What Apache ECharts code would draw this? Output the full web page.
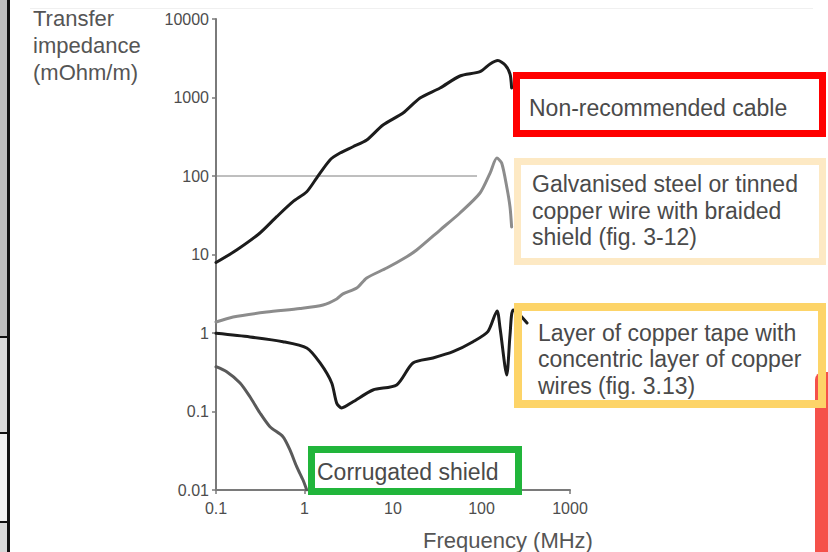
<!DOCTYPE html>
<html>
<head>
<meta charset="utf-8">
<script src="https://cdn.jsdelivr.net/npm/echarts@6/dist/echarts.min.js"></script>
<style>
  html, body { margin: 0; padding: 0; background: #ffffff; }
  #chart { width: 828px; height: 552px; }
</style>
</head>
<body>
<div id="chart"></div>
<script>
// ---- Data (frequency in MHz, transfer impedance in mOhm/m) ----
const xTickLabels = ['0.1', '1', '10', '100', '1000'];
const yTickLabels = ['0.01', '0.1', '1', '10', '100', '1000', '10000'];

const freqNonRec = [0.1, 0.171, 0.314, 0.485, 0.741, 1.06, 1.37, 1.94, 2.52, 3.53, 5.05, 7.71, 13.0, 20.2, 34.0, 57.1, 96.2, 125, 153, 185, 210, 219];
const zNonRec    = [7.9, 11.4, 18.8, 30.3, 47.1, 63, 94, 160, 196, 236, 288, 447, 635, 986, 1322, 1879, 2132, 2673, 2960, 2594, 1991, 1322];

const freqBraid = [0.1, 0.156, 0.374, 0.889, 1.62, 2.31, 2.72, 3.89, 5.05, 8.49, 14.3, 18.5, 34.0, 57.1, 96.2, 125, 149, 169, 193, 210, 219];
const zBraid    = [1.38, 1.60, 1.85, 2.05, 2.27, 2.71, 3.15, 3.74, 5.02, 6.73, 9.38, 11.4, 20.5, 33.8, 60.7, 109, 169, 146, 72.4, 40.3, 22.4];

const freqTape = [0.1, 0.242, 0.571, 1.06, 1.50, 2.03, 2.31, 2.63, 3.53, 5.94, 11.0, 16.8, 28.3, 47.6, 80.2, 118, 150, 162, 193, 210, 227, 272, 327];
const zTape    = [0.99, 0.89, 0.775, 0.644, 0.415, 0.231, 0.128, 0.111, 0.133, 0.188, 0.218, 0.415, 0.481, 0.578, 0.775, 1.04, 1.91, 1.16, 0.292, 0.944, 1.96, 1.69, 1.34];

const freqCorr = [0.1, 0.132, 0.187, 0.242, 0.314, 0.407, 0.571, 0.685, 0.816, 0.962, 1.06];
const zCorr    = [0.372, 0.321, 0.231, 0.154, 0.0957, 0.064, 0.0478, 0.0324, 0.0198, 0.0134, 0.01];

const refFreq = [0.1, 89];
const refZ    = [100, 100];

const labelNonRec = 'Non-recommended cable';
const labelBraid  = 'Galvanised steel or tinned\ncopper wire with braided\nshield (fig. 3-12)';
const labelTape   = 'Layer of copper tape with\nconcentric layer of copper\nwires (fig. 3.13)';
const labelCorr   = 'Corrugated shield';
const yTitle = 'Transfer\nimpedance\n(mOhm/m)';
const xTitle = 'Frequency (MHz)';

// ---- Build ----
function zip(a, b) { return a.map((v, i) => [v, b[i]]); }

const FONT = '"Liberation Sans", Arial, Helvetica, sans-serif';
const TXT = '#4a4a4a';

const chart = echarts.init(document.getElementById('chart'), null, { renderer: 'svg' });

function lineSeries(name, data, color, width) {
  return {
    name: name, type: 'line', data: data, showSymbol: false, symbol: 'none',
    smooth: 0.25, lineStyle: { color: color, width: width, cap: 'round', join: 'round' },
    silent: true, animation: false, z: 3
  };
}

function boxText(x, y, text, lh) {
  return {
    type: 'text', x: x, y: y, z: 101,
    style: { text: text, font: '23px ' + FONT, fill: TXT, lineHeight: lh, verticalAlign: 'top', align: 'left' }
  };
}
function boxRect(x, y, w, h, color, lw) {
  return {
    type: 'rect', z: 100,
    shape: { x: x, y: y, width: w, height: h },
    style: { fill: 'none', stroke: color, lineWidth: lw }
  };
}

const option = {
  backgroundColor: '#ffffff',
  animation: false,
  grid: { left: 216, top: 19, width: 354, height: 471, containLabel: false, outerBoundsMode: 'none' },
  xAxis: {
    type: 'log', logBase: 10, min: 0.1, max: 1000,
    axisLine: { show: true, lineStyle: { color: '#7a7a7a', width: 2 } },
    axisTick: { show: true, length: 4, lineStyle: { color: '#7a7a7a', width: 1.5 } },
    minorTick: { show: false },
    splitLine: { show: false },
    axisLabel: {
      color: '#4d4d4d', fontSize: 16, fontFamily: FONT, margin: 10,
      formatter: function (v) { return xTickLabels[Math.round(Math.log10(v)) + 1]; }
    }
  },
  yAxis: {
    type: 'log', logBase: 10, min: 0.01, max: 10000,
    axisLine: { show: true, lineStyle: { color: '#7a7a7a', width: 2 } },
    axisTick: { show: true, length: 4, lineStyle: { color: '#7a7a7a', width: 1.5 } },
    splitLine: { show: false },
    axisLabel: {
      color: '#4d4d4d', fontSize: 16, fontFamily: FONT, margin: 7,
      formatter: function (v) { return yTickLabels[Math.round(Math.log10(v)) + 2]; }
    }
  },
  series: [
    {
      name: 'ref100', type: 'line', data: zip(refFreq, refZ), showSymbol: false, symbol: 'none',
      lineStyle: { color: '#7f7f7f', width: 1 }, silent: true, z: 2
    },
    lineSeries('Corrugated shield', zip(freqCorr, zCorr), '#5a5a5a', 3),
    lineSeries('Braided', zip(freqBraid, zBraid), '#8c8c8c', 3),
    lineSeries('Copper tape', zip(freqTape, zTape), '#1c1c1c', 3),
    lineSeries('Non-recommended', zip(freqNonRec, zNonRec), '#1c1c1c', 3)
  ],
  graphic: [
    // left table strip
    { type: 'rect', shape: { x: 0, y: 0, width: 8, height: 337 }, style: { fill: '#bdbdbd' }, z: 90 },
    { type: 'rect', shape: { x: 0, y: 337, width: 8, height: 96 }, style: { fill: '#d9d9d9' }, z: 90 },
    { type: 'rect', shape: { x: 0, y: 433, width: 8, height: 89 }, style: { fill: '#f0f0f0' }, z: 90 },
    { type: 'rect', shape: { x: 0, y: 522, width: 8, height: 30 }, style: { fill: '#d9d9d9' }, z: 90 },
    { type: 'rect', shape: { x: 7, y: 0, width: 3, height: 552 }, style: { fill: '#111' }, z: 91 },
    { type: 'rect', shape: { x: 0, y: 336, width: 10, height: 2 }, style: { fill: '#111' }, z: 91 },
    { type: 'rect', shape: { x: 0, y: 432, width: 10, height: 2 }, style: { fill: '#111' }, z: 91 },
    { type: 'rect', shape: { x: 0, y: 521, width: 10, height: 2 }, style: { fill: '#111' }, z: 91 },
    // faint top rule
    { type: 'rect', shape: { x: 30, y: 8, width: 783, height: 1 }, style: { fill: '#f0f0f0' }, z: 1 },
    // red bar bottom right
    { type: 'rect', shape: { x: 815, y: 372, width: 13, height: 180, r: [8, 0, 0, 0] }, style: { fill: '#f5514a' }, z: 90 },
    // axis titles
    {
      type: 'text', x: 33, y: 5, z: 101,
      style: { text: yTitle, font: '22px ' + FONT, fill: '#555', lineHeight: 27, verticalAlign: 'top' }
    },
    {
      type: 'text', x: 423, y: 529, z: 101,
      style: { text: xTitle, font: '22px ' + FONT, fill: '#555', verticalAlign: 'top', lineHeight: 22 }
    },
    // annotation boxes
    boxRect(516.5, 75.5, 306, 58, '#ff0000', 7),
    boxText(529, 95, labelNonRec, 26),
    boxRect(517.5, 161.5, 305, 100, '#fde9c4', 7),
    boxText(532, 171, labelBraid, 26.5),
    boxRect(518, 307, 304, 97, '#fdd468', 8),
    boxText(538, 320, labelTape, 26.3),
    boxRect(311.5, 449.5, 207, 42, '#21b53b', 7),
    boxText(317, 459, labelCorr, 26)
  ]
};

chart.setOption(option);
</script>
</body>
</html>
